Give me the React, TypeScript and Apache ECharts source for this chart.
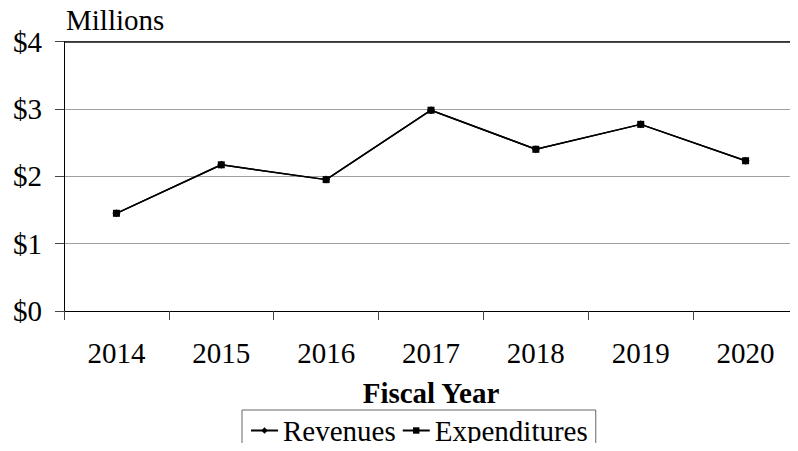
import React, { useEffect, useRef } from "react";
import * as echarts from "echarts";

const years = ["2014", "2015", "2016", "2017", "2018", "2019", "2020"];
const revenues = [1.45, 2.17, 1.95, 2.98, 2.4, 2.77, 2.23];
const expenditures = [1.45, 2.17, 1.95, 2.98, 2.4, 2.77, 2.23];
const seriesNames = ["Revenues", "Expenditures"];
const yMax = 4;

const FONT = "Liberation Serif";

export default function App() {
  const ref = useRef<HTMLDivElement>(null);
  useEffect(() => {
    if (!ref.current) return;
    const chart = echarts.init(ref.current, undefined, { renderer: "svg" });
    chart.setOption({
      animation: false,
      backgroundColor: "#fff",
      textStyle: { fontFamily: FONT, color: "#000" },
      graphic: [
        {
          type: "text",
          x: 66,
          y: 20,
          style: {
            text: "Millions",
            fontFamily: FONT,
            fontSize: 29,
            fill: "#000",
            verticalAlign: "middle",
          },
        },
      ],
      grid: {
        left: 64,
        top: 41.5,
        right: -4.5,
        bottom: 140,
        show: false,
      },
      legend: {
        left: 242,
        top: 410,
        padding: [6, 8, 18, 8],
        borderColor: "#666",
        borderWidth: 1,
        itemWidth: 27,
        itemHeight: 8,
        itemGap: 6,
        textStyle: { fontFamily: FONT, fontSize: 29, color: "#000" },
        data: seriesNames,
      },
      xAxis: {
        type: "category",
        data: years,
        boundaryGap: true,
        name: "Fiscal Year",
        nameLocation: "middle",
        nameGap: 67,
        nameTextStyle: {
          fontFamily: FONT,
          fontSize: 29,
          fontWeight: "bold",
          color: "#000",
          verticalAlign: "top",
        },
        axisLine: { lineStyle: { color: "#000", width: 1 } },
        axisTick: { show: true, length: 9, lineStyle: { color: "#444" } },
        axisLabel: { margin: 27, fontFamily: FONT, fontSize: 29, color: "#000" },
        splitLine: { show: false },
      },
      yAxis: {
        type: "value",
        min: 0,
        max: yMax,
        interval: 1,
        axisLine: { show: true, lineStyle: { color: "#000", width: 1 } },
        axisTick: { show: true, length: 9, lineStyle: { color: "#444" } },
        axisLabel: {
          margin: 22,
          fontFamily: FONT,
          fontSize: 29,
          color: "#000",
          formatter: (v: number) => "$" + v,
        },
        splitLine: {
          show: true,
          lineStyle: { color: "#a0a0a0", width: 1 },
        },
      },
      series: [
        {
          name: seriesNames[0],
          type: "line",
          data: revenues,
          symbol: "diamond",
          symbolSize: 8,
          itemStyle: { color: "#000" },
          lineStyle: { color: "#000", width: 1.5 },
          z: 2,
          markLine: {
            silent: true,
            symbol: "none",
            label: { show: false },
            lineStyle: { color: "#111", type: "solid", width: 1.5 },
            data: [{ yAxis: yMax }],
          },
        },
        {
          name: seriesNames[1],
          type: "line",
          data: expenditures,
          symbol: "rect",
          symbolSize: 7,
          itemStyle: { color: "#000" },
          lineStyle: { color: "#000", width: 1.5 },
          z: 3,
        },
      ],
    });
    return () => chart.dispose();
  }, []);
  return <div ref={ref} style={{ width: 798, height: 451, margin: -8 }} />;
}
